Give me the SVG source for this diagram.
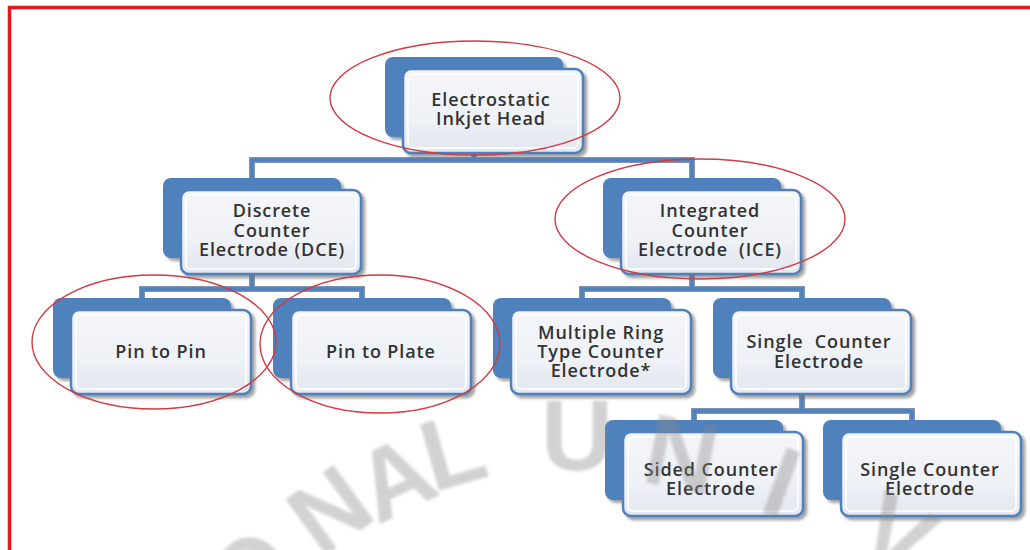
<svg xmlns="http://www.w3.org/2000/svg" width="1030" height="550" viewBox="0 0 1030 550">
  <defs>
    <filter id="sh" x="-10%" y="-10%" width="125%" height="130%">
      <feDropShadow dx="3" dy="3" stdDeviation="1.8" flood-color="#6e6e6e" flood-opacity="0.65"/>
    </filter>
    <filter id="soft" x="-20%" y="-20%" width="140%" height="140%">
      <feGaussianBlur stdDeviation="1.6"/>
    </filter>
    <linearGradient id="fg" x1="0" y1="0" x2="0" y2="1">
      <stop offset="0" stop-color="#f3f5f9"/>
      <stop offset="0.6" stop-color="#eef1f6"/>
      <stop offset="1" stop-color="#e2e6ee"/>
    </linearGradient>
    <style>
      .back{fill:#4f81bd;filter:url(#sh)}
      .front{fill:url(#fg);stroke:#4f81bd;stroke-width:2.5;filter:url(#sh)}
      .inner{fill:none;stroke:#ffffff;stroke-width:2;opacity:0.8}
      .lbl{font-family:"Open Sans","DejaVu Sans",sans-serif;font-size:18px;font-weight:600;letter-spacing:0.9px;fill:#333333;text-anchor:middle}
      .cOut{fill:none;stroke:#7d93b3;stroke-width:6;stroke-linejoin:miter}
      .cIn{fill:none;stroke:#4f81bd;stroke-width:3.4;stroke-linejoin:miter}
      .ring{fill:none;stroke:#d23a44;stroke-width:1.4}
      .wm{font-family:"Liberation Sans",Arial,sans-serif;font-weight:bold;font-size:100px;fill:#8a8a8a;opacity:0.38;text-anchor:middle;filter:url(#soft)}
    </style>
  </defs>
  <rect width="1030" height="550" fill="#ffffff"/>
  <path d="M9.5,555 V7.5 H1035" fill="none" stroke="#e41b1b" stroke-width="3.5"/>

  <g id="connectors">
    <path class="cOut" d="M474,153 V160 M252,178 V160 H692 V178 M252,274 V289 M142,298 V289 H362 V298 M692,274 V289 M582,298 V289 H802 V298 M802,394 V411 M694,420 V411 H912 V420"/>
    <path class="cIn" d="M474,153 V160 M252,178 V160 H692 V178 M252,274 V289 M142,298 V289 H362 V298 M692,274 V289 M582,298 V289 H802 V298 M802,394 V411 M694,420 V411 H912 V420"/>
  </g>

  <g id="root">
    <rect class="back" x="385" y="57" width="178" height="80" rx="8"/>
    <rect class="front" x="403" y="69" width="180" height="84" rx="8"/>
    <rect class="inner" x="408" y="74" width="170" height="74" rx="5"/>
    <text class="lbl" x="491" y="106">Electrostatic<tspan x="491" dy="19">Inkjet Head</tspan></text>
  </g>

  <g id="dce">
    <rect class="back" x="163" y="178" width="178" height="80" rx="8"/>
    <rect class="front" x="181" y="190" width="180" height="84" rx="8"/>
    <rect class="inner" x="186" y="195" width="170" height="74" rx="5"/>
    <text class="lbl" x="272" y="217">Discrete<tspan x="272" dy="19.5">Counter</tspan><tspan x="272" dy="19.5">Electrode (DCE)</tspan></text>
  </g>

  <g id="ice">
    <rect class="back" x="603" y="178" width="178" height="80" rx="8"/>
    <rect class="front" x="621" y="190" width="180" height="84" rx="8"/>
    <rect class="inner" x="626" y="195" width="170" height="74" rx="5"/>
    <text class="lbl" x="710" y="217" xml:space="preserve">Integrated<tspan x="710" dy="19.5">Counter</tspan><tspan x="710" dy="19.5">Electrode  (ICE)</tspan></text>
  </g>

  <g id="pin-to-pin">
    <rect class="back" x="53" y="298" width="178" height="80" rx="8"/>
    <rect class="front" x="71" y="310" width="180" height="84" rx="8"/>
    <rect class="inner" x="76" y="315" width="170" height="74" rx="5"/>
    <text class="lbl" x="161" y="358">Pin to Pin</text>
  </g>

  <g id="pin-to-plate">
    <rect class="back" x="273" y="298" width="178" height="80" rx="8"/>
    <rect class="front" x="291" y="310" width="180" height="84" rx="8"/>
    <rect class="inner" x="296" y="315" width="170" height="74" rx="5"/>
    <text class="lbl" x="381" y="358">Pin to Plate</text>
  </g>

  <g id="multiple-ring">
    <rect class="back" x="493" y="298" width="178" height="80" rx="8"/>
    <rect class="front" x="511" y="310" width="180" height="84" rx="8"/>
    <rect class="inner" x="516" y="315" width="170" height="74" rx="5"/>
    <text class="lbl" x="601" y="339">Multiple Ring<tspan x="601" dy="19">Type Counter</tspan><tspan x="601" dy="19">Electrode*</tspan></text>
  </g>

  <g id="single-counter-1">
    <rect class="back" x="713" y="298" width="178" height="80" rx="8"/>
    <rect class="front" x="731" y="310" width="180" height="84" rx="8"/>
    <rect class="inner" x="736" y="315" width="170" height="74" rx="5"/>
    <text class="lbl" x="819" y="348" xml:space="preserve">Single  Counter<tspan x="819" dy="20">Electrode</tspan></text>
  </g>

  <g id="sided-counter">
    <rect class="back" x="605" y="420" width="178" height="80" rx="8"/>
    <rect class="front" x="623" y="432" width="180" height="84" rx="8"/>
    <rect class="inner" x="628" y="437" width="170" height="74" rx="5"/>
    <text class="lbl" x="711" y="476">Sided Counter<tspan x="711" dy="18.5">Electrode</tspan></text>
  </g>

  <g id="single-counter-2">
    <rect class="back" x="823" y="420" width="178" height="80" rx="8"/>
    <rect class="front" x="841" y="432" width="180" height="84" rx="8"/>
    <rect class="inner" x="846" y="437" width="170" height="74" rx="5"/>
    <text class="lbl" x="930" y="476">Single Counter<tspan x="930" dy="18.5">Electrode</tspan></text>
  </g>

  <g id="highlights">
    <ellipse class="ring" cx="475" cy="98" rx="145" ry="57"/>
    <ellipse class="ring" cx="700" cy="219" rx="145" ry="60"/>
    <ellipse class="ring" cx="154" cy="342" rx="122" ry="67"/>
    <ellipse class="ring" cx="380" cy="344" rx="120" ry="69"/>
  </g>

  <g id="watermark">
    <text class="wm" transform="translate(275,598) rotate(-45)">O</text>
    <text class="wm" transform="translate(350,538) rotate(-36)">N</text>
    <text class="wm" transform="translate(410,510) rotate(-26)">A</text>
    <text class="wm" transform="translate(462,484) rotate(-16)">L</text>
    <text class="wm" transform="translate(577,470) rotate(0)">U</text>
    <text class="wm" transform="translate(675,488) rotate(11)">N</text>
    <text class="wm" transform="translate(770,515) rotate(20)">I</text>
    <text class="wm" transform="translate(880,565) rotate(29)">V</text>
  </g>
</svg>
